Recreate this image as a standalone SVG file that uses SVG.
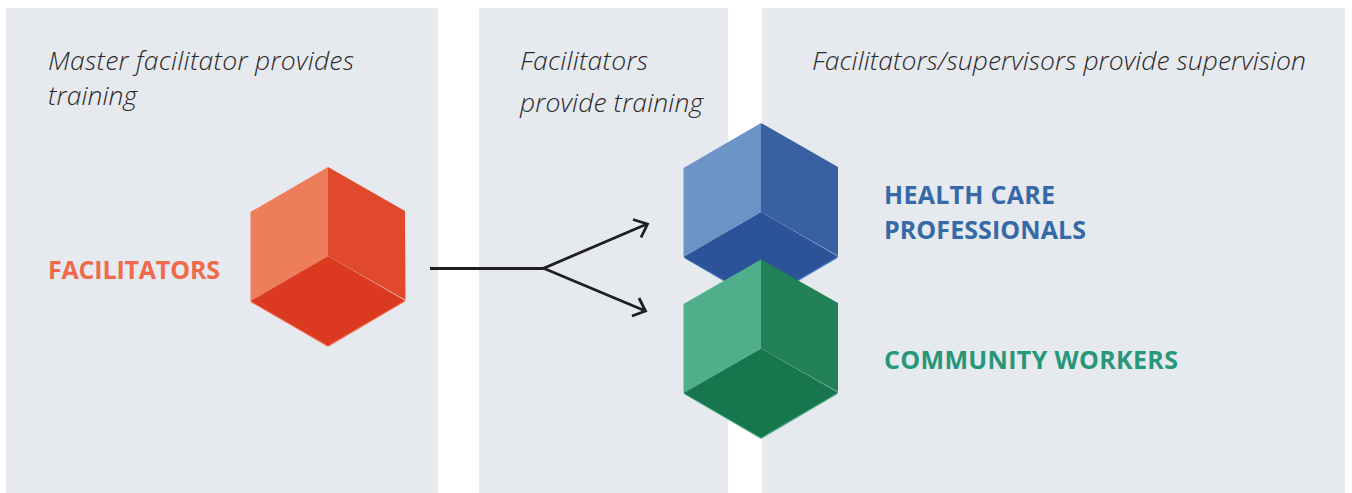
<svg xmlns="http://www.w3.org/2000/svg" width="1352" height="493" viewBox="0 0 1352 493">
<style>
.panel{fill:#e6e9ee}
.h{font-family:"Open Sans","Noto Sans",sans-serif;font-style:italic;font-size:26.5px;fill:#2a2a2c;font-weight:300}
.l{font-family:"Open Sans","Noto Sans",sans-serif;font-weight:700;font-size:25px}
.c{fill:none;stroke:#1f1f22;stroke-width:2.8}
</style>
<rect width="1352" height="493" fill="#fff"/>
<g id="panel-1"><rect class="panel" x="6" y="8" width="432" height="485"/><text class="h" x="48" y="70" textLength="306">Master facilitator provides</text><text class="h" x="48" y="105" textLength="89">training</text></g>
<g id="panel-2"><rect class="panel" x="479" y="8" width="249" height="485"/><text class="h" x="520" y="70" textLength="128">Facilitators</text><text class="h" x="520" y="112" textLength="183">provide training</text></g>
<g id="panel-3"><rect class="panel" x="762" y="8" width="583" height="485"/><text class="h" x="812" y="70" textLength="494">Facilitators/supervisors provide supervision</text></g>
<g id="connectors"><path class="c" d="M430 268.500H543L647 224M543 268L645.500 311M633 219.500L647.500 224L641 237.500M639 298L645.500 311L632 316"/></g>
<g id="facilitators"><polygon points="328,347 250.500,302 328,300 406,301" fill="#f0775a"/><polygon points="328,167 250.500,212 250.500,301 328,256" fill="#ee7d5c"/><polygon points="328,167 405,211 405.500,300 328,256" fill="#e0492c"/><polygon points="328,256 250.500,301 328,345.500 405,300.500" fill="#dc3a20"/><text class="l" x="48" y="279" fill="#f0694a" textLength="172">FACILITATORS</text></g>
<g id="health-care-professionals"><polygon points="761,303 684,258 761,250 838.500,257.500" fill="#5f8ccb"/><polygon points="761,123 683.500,168 683.500,257 761,212" fill="#6c94c7"/><polygon points="761,123 838,167 838,256 761,212" fill="#3a60a4"/><polygon points="761,212 683.500,257 761,301.500 838,256.500" fill="#2c5299"/><text class="l" fill="#3569a8"><tspan x="884" y="204" textLength="171">HEALTH CARE</tspan><tspan x="884" y="239" textLength="202">PROFESSIONALS</tspan></text></g>
<g id="community-workers"><polygon points="761,439 684,394 761,385 838.500,393.500" fill="#50ae8b"/><polygon points="761,259.500 683.500,304 683.500,393 761,348.500" fill="#50ae8b"/><polygon points="761,259.500 838,303 838,392 761,348.500" fill="#228157"/><polygon points="761,348.500 683.500,393 761,437.500 838,392.500" fill="#18764e"/><text class="l" x="884" y="369" fill="#27977a" textLength="294">COMMUNITY WORKERS</text></g>
</svg>
